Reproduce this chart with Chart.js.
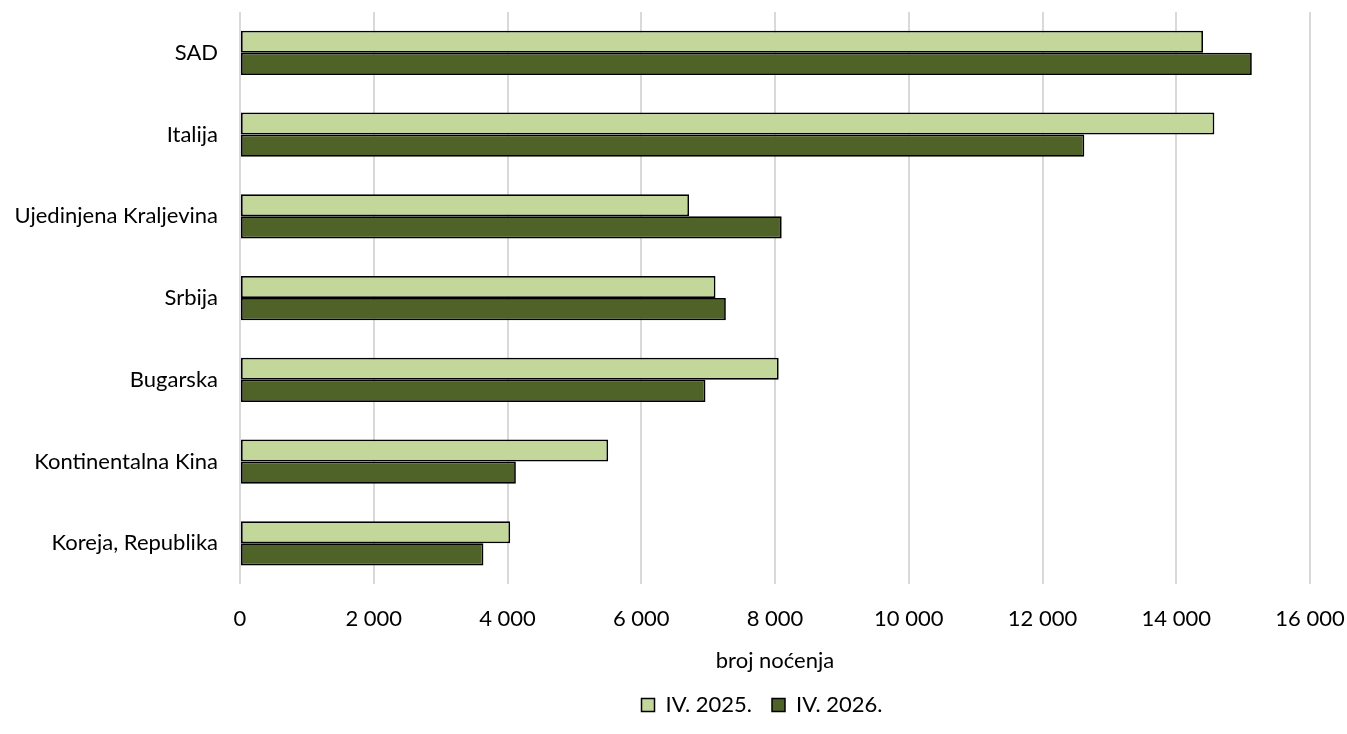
<!DOCTYPE html>
<html>
<head>
<meta charset="utf-8">
<script src="https://cdn.jsdelivr.net/npm/chart.js@4"></script>
<style>
  html, body { margin: 0; padding: 0; background: #fff; }
  #wrap { width: 1347px; height: 734px; }
</style>
</head>
<body>
<div id="wrap"><canvas id="chart" width="1347" height="734"></canvas></div>
<script>
const categories = ['SAD', 'Italija', 'Ujedinjena Kraljevina', 'Srbija', 'Bugarska', 'Kontinentalna Kina', 'Koreja, Republika'];
const series2025 = [14400, 14570, 6715, 7110, 8055, 5505, 4040];
const series2026 = [15130, 12625, 8100, 7265, 6960, 4125, 3640];
const xTicks = [0, 2000, 4000, 6000, 8000, 10000, 12000, 14000, 16000];

const FONT = 'Lato, "Noto Sans", sans-serif';
const FSIZE = 22;

function fmt(v) {
    return String(v).replace(/\B(?=(\d{3})+(?!\d))/g, ' ');
}

// legend sits under the plot area rather than the full canvas
const legendShift = {
    id: 'legendShift',
    afterLayout(chart) {
        const lg = chart.legend;
        const dx = (chart.chartArea.left + chart.chartArea.right) / 2 - 13 - (lg.left + lg.right) / 2;
        lg.left += dx;
        lg.right += dx;
    }
};

const ctx = document.getElementById('chart').getContext('2d');
new Chart(ctx, {
    type: 'bar',
    data: {
        labels: categories,
        datasets: [
            {
                label: 'IV. 2025.',
                data: series2025,
                backgroundColor: '#c4d79b',
                borderColor: '#000000',
                borderWidth: 1.75,
                borderSkipped: false
            },
            {
                label: 'IV. 2026.',
                data: series2026,
                backgroundColor: '#4f6228',
                borderColor: '#000000',
                borderWidth: 1.75,
                borderSkipped: false
            }
        ]
    },
    plugins: [legendShift],
    options: {
        indexAxis: 'y',
        responsive: false,
        animation: false,
        categoryPercentage: 0.54,
        barPercentage: 1.0,
        layout: { padding: { left: 12, right: 4, top: 12, bottom: 8 } },
        scales: {
            x: {
                min: 0,
                max: 16000,
                afterBuildTicks: function (axis) {
                    axis.ticks = xTicks.map(v => ({ value: v }));
                },
                afterFit: function (axis) {
                    axis.paddingLeft = 0;
                    axis.paddingRight = 37;
                },
                grid: { color: '#d9d9d9', lineWidth: 2, drawTicks: false },
                border: { display: false },
                ticks: {
                    color: '#000',
                    padding: 22,
                    font: { family: FONT, size: FSIZE },
                    callback: v => fmt(v)
                },
                title: {
                    display: true,
                    text: 'broj noćenja',
                    color: '#000',
                    font: { family: FONT, size: FSIZE },
                    padding: { top: -7, bottom: 0 }
                }
            },
            y: {
                afterFit: function (axis) {
                    axis.width = 228;
                    axis.paddingTop = 0;
                    axis.paddingBottom = 0;
                },
                grid: { display: false, drawTicks: false },
                border: { display: false },
                ticks: {
                    color: '#000',
                    padding: 22,
                    font: { family: FONT, size: FSIZE }
                }
            }
        },
        plugins: {
            legend: {
                position: 'bottom',
                labels: {
                    color: '#000',
                    font: { family: FONT, size: FSIZE },
                    boxWidth: 13,
                    boxHeight: 13,
                    padding: 20,
                    generateLabels: function (chart) {
                        const labels = Chart.defaults.plugins.legend.labels.generateLabels(chart);
                        labels.forEach(l => { l.lineWidth = 1.5; l.strokeStyle = '#000'; });
                        return labels;
                    }
                }
            },
            tooltip: { enabled: false }
        }
    }
});
</script>
</body>
</html>
